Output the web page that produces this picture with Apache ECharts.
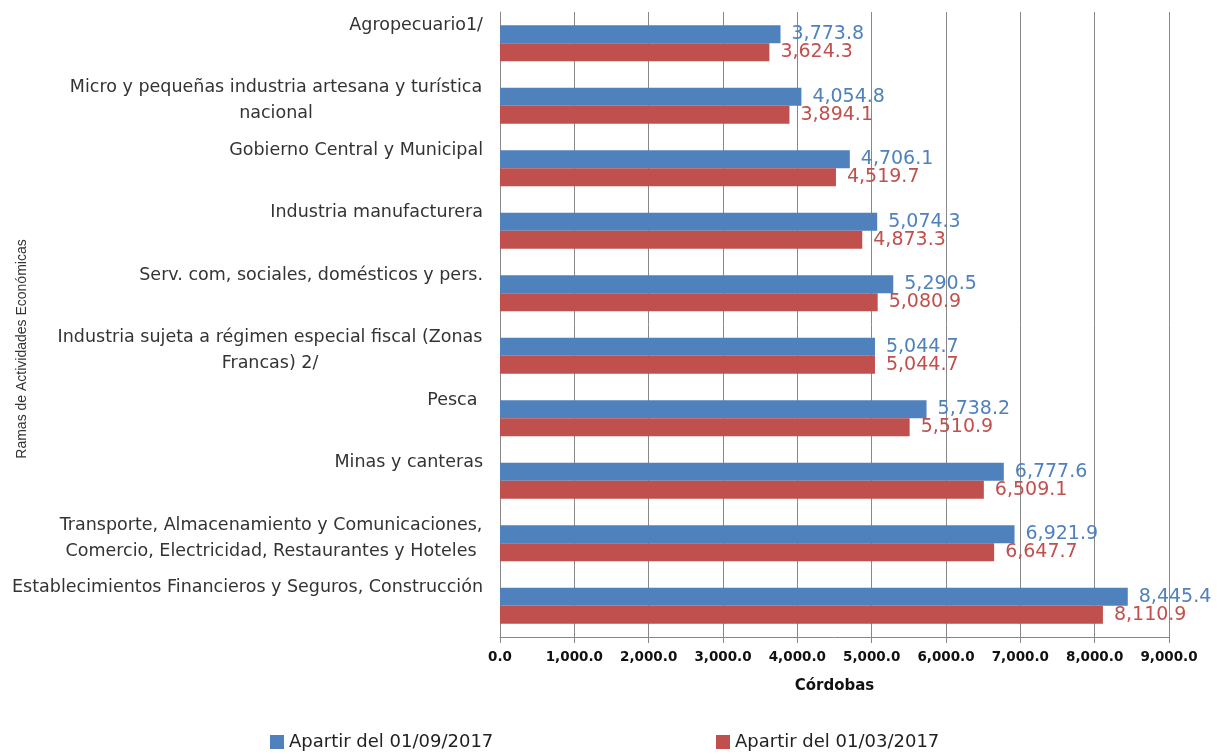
<!DOCTYPE html>
<html>
<head>
<meta charset="utf-8">
<script src="https://cdn.jsdelivr.net/npm/echarts@6/dist/echarts.min.js"></script>
<style>
html, body { margin: 0; padding: 0; background: #fff; }
#chart { width: 1217px; height: 754px; }
</style>
</head>
<body>
<div id="chart"></div>
<script>
// ramas de actividad, de arriba hacia abajo
const categories = [
    'Agropecuario1/',
    'Micro y pequeñas industria artesana y turística\nnacional',
    'Gobierno Central y Municipal',
    'Industria manufacturera',
    'Serv. com, sociales, domésticos y pers.',
    'Industria sujeta a régimen especial fiscal (Zonas\nFrancas) 2/',
    'Pesca ',
    'Minas y canteras',
    'Transporte, Almacenamiento y Comunicaciones,\nComercio, Electricidad, Restaurantes y Hoteles',
    'Establecimientos Financieros y Seguros, Construcción'
]
const seriesNames = ['Apartir del 01/09/2017', 'Apartir del 01/03/2017']
const sep2017 = [3773.8, 4054.8, 4706.1, 5074.3, 5290.5, 5044.7, 5738.2, 6777.6, 6921.9, 8445.4]
const mar2017 = [3624.3, 3894.1, 4519.7, 4873.3, 5080.9, 5044.7, 5510.9, 6509.1, 6647.7, 8110.9]
const xMin = 0, xMax = 9000, xStep = 1000

const blue = '#4f81bd'
const red = '#c0504d'
const gridColor = '#888888'

const fmt = new Intl.NumberFormat('en-US', {minimumFractionDigits: 1, maximumFractionDigits: 1})

// etiquetas de dos lineas: centradas entre si, bloque alineado a la derecha
const catFont = {fontFamily: 'DejaVu Sans', fontSize: 17.5, lineHeight: 26, color: '#333'}
const ctx = document.createElement('canvas').getContext('2d')
ctx.font = '17.5px "DejaVu Sans"'
const rich = {}
categories.forEach(function (c, i) {
    const lines = c.split('\n')
    if (lines.length > 1) {
        const w = Math.max.apply(null, lines.map(l => ctx.measureText(l).width))
        rich['c' + i] = Object.assign({width: Math.ceil(w) + 1, align: 'center'}, catFont)
    }
})

const chart = echarts.init(document.getElementById('chart'))
chart.setOption({
    animation: false,
    backgroundColor: '#fff',
    grid: {left: 500, right: 48, top: 12, bottom: 117},
    legend: [
        {
            data: [seriesNames[0]], left: 270, top: 733, padding: 0,
            itemWidth: 14, itemHeight: 14, itemGap: 6, icon: 'rect',
            textStyle: {fontFamily: 'DejaVu Sans', fontSize: 18, color: '#222'}
        },
        {
            data: [seriesNames[1]], left: 716, top: 733, padding: 0,
            itemWidth: 14, itemHeight: 14, itemGap: 6, icon: 'rect',
            textStyle: {fontFamily: 'DejaVu Sans', fontSize: 18, color: '#222'}
        }
    ],
    graphic: [{
        type: 'text',
        x: 22, y: 349,
        rotation: Math.PI / 2,
        style: {
            text: 'Ramas de Actividades Económicas',
            fontFamily: 'Liberation Sans', fontSize: 14, fill: '#333',
            align: 'center', verticalAlign: 'middle'
        }
    }],
    xAxis: {
        type: 'value',
        min: xMin, max: xMax, interval: xStep,
        name: 'Córdobas',
        nameLocation: 'middle',
        nameGap: 42,
        nameTextStyle: {fontFamily: 'DejaVu Sans', fontSize: 15, fontWeight: 'bold', color: '#111'},
        axisLine: {show: true, lineStyle: {color: gridColor, width: 1}},
        axisTick: {show: true, length: 6, lineStyle: {color: gridColor}},
        axisLabel: {
            margin: 13,
            fontFamily: 'DejaVu Sans', fontSize: 13.5, fontWeight: 'bold', color: '#111',
            formatter: v => fmt.format(v)
        },
        splitLine: {show: true, lineStyle: {color: gridColor, width: 1}}
    },
    yAxis: {
        type: 'category',
        inverse: true,
        data: categories,
        axisLine: {show: true, lineStyle: {color: gridColor, width: 1}},
        axisTick: {show: false},
        splitLine: {show: false},
        axisLabel: Object.assign({
            margin: 17,
            interval: 0,
            padding: [0, 0, 10, 0],
            rich: rich,
            formatter: function (value, index) {
                const lines = value.split('\n')
                if (lines.length > 1) {
                    return lines.map(l => '{c' + index + '|' + l + '}').join('\n')
                }
                return value + '\n '
            }
        }, catFont)
    },
    series: [
        {
            name: seriesNames[0],
            type: 'bar',
            data: sep2017,
            barWidth: 18,
            barGap: '0%',
            itemStyle: {color: blue},
            label: {
                show: true, position: 'right', distance: 11,
                fontFamily: 'DejaVu Sans', fontSize: 19, color: blue,
                formatter: p => fmt.format(p.value)
            }
        },
        {
            name: seriesNames[1],
            type: 'bar',
            data: mar2017,
            barWidth: 18,
            barGap: '0%',
            itemStyle: {color: red},
            label: {
                show: true, position: 'right', distance: 11,
                fontFamily: 'DejaVu Sans', fontSize: 19, color: red,
                formatter: p => fmt.format(p.value)
            }
        }
    ]
})
</script>
</body>
</html>
